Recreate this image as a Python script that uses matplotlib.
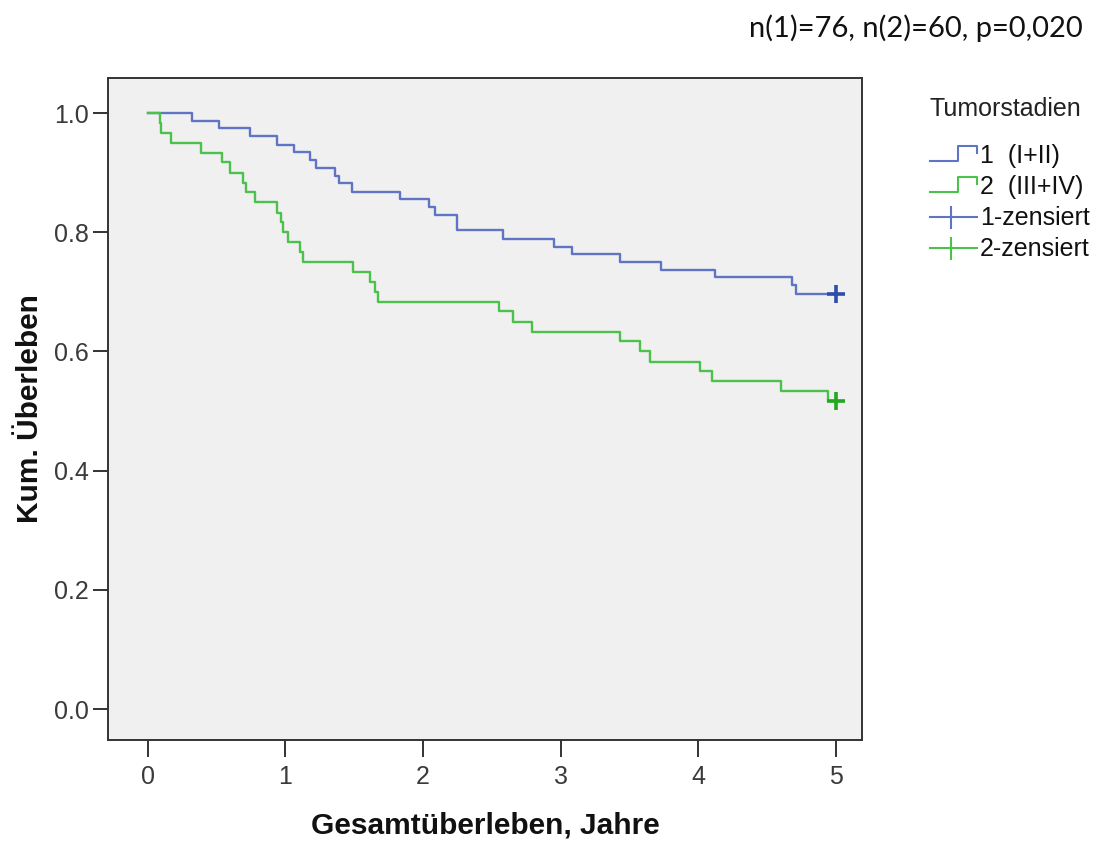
import matplotlib
matplotlib.use("Agg")
import matplotlib.pyplot as plt
from matplotlib.lines import Line2D
from matplotlib.legend_handler import HandlerBase
from matplotlib import font_manager

# ---------------- data ----------------
blue_t = [0, 0.32, 0.52, 0.74, 0.94, 1.06, 1.18, 1.22, 1.36, 1.39, 1.48, 1.83,
          2.04, 2.09, 2.25, 2.58, 2.95, 3.08, 3.43, 3.73, 4.12, 4.68, 4.71, 5.0]
blue_s = [1.0, 0.987, 0.974, 0.961, 0.947, 0.934, 0.921, 0.908, 0.895, 0.882,
          0.868, 0.855, 0.842, 0.829, 0.803, 0.789, 0.776, 0.763, 0.750, 0.737,
          0.724, 0.711, 0.697, 0.697]

green_t = [0, 0.087, 0.095, 0.17, 0.385, 0.535, 0.60, 0.69, 0.715, 0.78, 0.94,
           0.965, 0.985, 1.02, 1.105, 1.13, 1.49, 1.613, 1.65, 1.674, 2.55, 2.65,
           2.79, 3.43, 3.575, 3.65, 4.01, 4.10, 4.60, 4.944, 5.0]
green_s = [1.0, 0.983, 0.967, 0.950, 0.933, 0.917, 0.900, 0.883, 0.867, 0.850,
           0.833, 0.817, 0.800, 0.783, 0.767, 0.750, 0.733, 0.717, 0.700, 0.683,
           0.667, 0.650, 0.633, 0.617, 0.600, 0.583, 0.567, 0.550, 0.533, 0.517,
           0.517]

censor_blue_t = [5.0]
censor_blue_s = [0.697]
censor_green_t = [5.0]
censor_green_s = [0.517]

x_ticks = [0, 1, 2, 3, 4, 5]
y_ticks = [0.0, 0.2, 0.4, 0.6, 0.8, 1.0]
y_tick_labels = ["0.0", "0.2", "0.4", "0.6", "0.8", "1.0"]

legend_title = "Tumorstadien"
legend_labels = ["1  (I+II)", "2  (III+IV)", "1-zensiert", "2-zensiert"]
note_text = "n(1)=76, n(2)=60, p=0,020"
x_label = "Gesamtüberleben, Jahre"
y_label = "Kum. Überleben"

# ---------------- style ----------------
BLUE = "#6074c4"
GREEN = "#4cc24c"
BLUE_C = "#2e4dab"
GREEN_C = "#22a822"

avail = {f.name for f in font_manager.fontManager.ttflist}
narrow = "Liberation Sans Narrow" if "Liberation Sans Narrow" in avail else "Liberation Sans"
plt.rcParams["font.family"] = [narrow, "DejaVu Sans"]

fig = plt.figure(figsize=(11, 8.41), dpi=100)
ax = fig.add_axes([108 / 1100, 1 - 740 / 841, (862 - 108) / 1100, (740 - 78) / 841])
ax.set_facecolor("#f0f0f0")

ax.step(blue_t, blue_s, where="post", color=BLUE, lw=1.7)
ax.step(green_t, green_s, where="post", color=GREEN, lw=1.7)
ax.plot(censor_blue_t, censor_blue_s, linestyle="none", marker="+",
        markersize=13, mew=2.6, color=BLUE_C)
ax.plot(censor_green_t, censor_green_s, linestyle="none", marker="+",
        markersize=13, mew=2.6, color=GREEN_C)

x0 = -0.29
x1 = 5.19
y0 = -0.052
y1 = 1.0 + (113 - 78) / 596
ax.set_xlim(x0, x1)
ax.set_ylim(y0, y1)

ax.set_xticks(x_ticks)
ax.set_xticklabels([str(v) for v in x_ticks])
ax.set_yticks(y_ticks)
ax.set_yticklabels(y_tick_labels)

for s in ax.spines.values():
    s.set_color("#333333")
    s.set_linewidth(1.4)
ax.tick_params(axis="both", direction="out", colors="#333333", width=1.4,
               labelsize=18, labelcolor="#3a3a3a")
ax.tick_params(axis="y", length=11, pad=3)
ax.tick_params(axis="x", length=12, pad=6)

ax.set_xlabel(x_label, fontsize=21.5, fontweight="bold", labelpad=16, color="#111111")
ax.set_ylabel(y_label, fontsize=21.5, fontweight="bold", labelpad=7, color="#111111")

fig.text(1083 / 1100, 1 - 28 / 841, note_text, ha="right", va="center",
         fontsize=21, family=["Lato", "DejaVu Sans"], color="#111111")


# ---------------- legend handlers ----------------
class StepHandler(HandlerBase):
    def create_artists(self, legend, orig_handle, xdescent, ydescent, width,
                       height, fontsize, trans):
        c = orig_handle.get_color()
        lo = -ydescent + height * 0.1
        hi = -ydescent + height * 0.95
        xs = [-xdescent, -xdescent + width * 0.6, -xdescent + width * 0.6,
              -xdescent + width, -xdescent + width]
        ys = [lo, lo, hi, hi, hi - height * 0.35]
        ln = Line2D(xs, ys, color=c, lw=1.5, transform=trans)
        return [ln]


class CensorHandler(HandlerBase):
    def create_artists(self, legend, orig_handle, xdescent, ydescent, width,
                       height, fontsize, trans):
        c = orig_handle.get_color()
        mid = -ydescent + height * 0.45
        h = Line2D([-xdescent, -xdescent + width], [mid, mid], color=c, lw=1.5,
                   transform=trans)
        xm = -xdescent + width * 0.45
        v = Line2D([xm, xm], [mid - height * 0.6, mid + height * 0.6],
                   color=c, lw=1.5, transform=trans)
        return [h, v]


class StepKey(Line2D):
    pass


class CensorKey(Line2D):
    pass


handles = [StepKey([], [], color=BLUE), StepKey([], [], color=GREEN),
           CensorKey([], [], color=BLUE), CensorKey([], [], color=GREEN)]
leg = fig.legend(handles, legend_labels, title=legend_title,
                 loc="upper left", bbox_to_anchor=(907 / 1100, 1 - 74 / 841),
                 frameon=False, fontsize=18, title_fontsize=18,
                 handlelength=1.9, handletextpad=0.12, labelspacing=0.28,
                 handler_map={StepKey: StepHandler(), CensorKey: CensorHandler()},
                 alignment="left")
leg.get_title().set_color("#222222")
for t in leg.get_texts():
    t.set_color("#111111")
leg._legend_box.sep = 17

fig.savefig("out.png", dpi=100)
